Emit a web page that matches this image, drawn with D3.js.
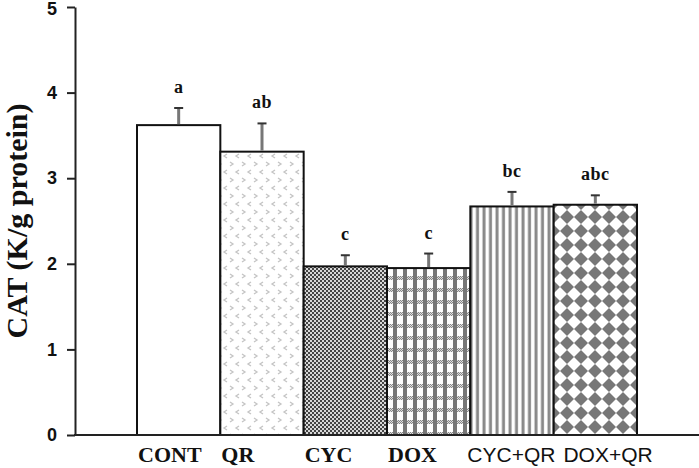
<!DOCTYPE html>
<html>
<head>
<meta charset="utf-8">
<script src="https://cdn.jsdelivr.net/npm/d3@7"></script>
<style>
  html, body { margin: 0; padding: 0; background: #fff; }
  svg { display: block; }
</style>
</head>
<body>
<script>
const categories = ["CONT", "QR", "CYC", "DOX", "CYC+QR", "DOX+QR"];
const means = [3.62, 3.31, 1.97, 1.95, 2.67, 2.69];
const errors = [0.20, 0.33, 0.13, 0.17, 0.17, 0.11];
const letters = ["a", "ab", "c", "c", "bc", "abc"];
const yTicks = [0, 1, 2, 3, 4, 5];
const yTitle = "CAT (K/g protein)";

const W = 699, H = 468;
const svg = d3.select("body").append("svg").attr("width", W).attr("height", H);
const defs = svg.append("defs");

// patterns
const pQR = defs.append("pattern").attr("id", "pQR").attr("patternUnits", "userSpaceOnUse")
  .attr("width", 12).attr("height", 16);
pQR.append("rect").attr("width", 12).attr("height", 16).attr("fill", "#fff");
pQR.append("path").attr("d", "M2,2 L5,4 L2,6").attr("fill", "none").attr("stroke", "#c4c4c4").attr("stroke-width", 1.3);
pQR.append("path").attr("d", "M11,10 L8,12 L11,14").attr("fill", "none").attr("stroke", "#c4c4c4").attr("stroke-width", 1.3);

const pCYC = defs.append("pattern").attr("id", "pCYC").attr("patternUnits", "userSpaceOnUse")
  .attr("width", 4).attr("height", 4);
pCYC.append("rect").attr("width", 4).attr("height", 4).attr("fill", "#d8d8d8");
pCYC.append("rect").attr("width", 2).attr("height", 2).attr("fill", "#444");
pCYC.append("rect").attr("x", 2).attr("y", 2).attr("width", 2).attr("height", 2).attr("fill", "#444");

const pCYCl = defs.append("pattern").attr("id", "pCYCl").attr("patternUnits", "userSpaceOnUse")
  .attr("width", 2).attr("height", 2);
pCYCl.append("rect").attr("width", 2).attr("height", 2).attr("fill", "#e0e0e0");
pCYCl.append("rect").attr("width", 1).attr("height", 1).attr("fill", "#888");
pCYCl.append("rect").attr("x", 1).attr("y", 1).attr("width", 1).attr("height", 1).attr("fill", "#888");

const pDOX = defs.append("pattern").attr("id", "pDOX").attr("patternUnits", "userSpaceOnUse")
  .attr("width", 10).attr("height", 12);
pDOX.append("rect").attr("width", 10).attr("height", 12).attr("fill", "#fff");
pDOX.append("rect").attr("y", 0).attr("width", 10).attr("height", 4).attr("fill", "url(#pCYCl)");
pDOX.append("rect").attr("x", 3).attr("width", 4).attr("height", 12).attr("fill", "#777");

const pCQ = defs.append("pattern").attr("id", "pCQ").attr("patternUnits", "userSpaceOnUse")
  .attr("width", 6.5).attr("height", 10);
pCQ.append("rect").attr("width", 6.5).attr("height", 10).attr("fill", "#fff");
pCQ.append("rect").attr("x", 1.5).attr("width", 3).attr("height", 10).attr("fill", "#888");

const pDQ = defs.append("pattern").attr("id", "pDQ").attr("patternUnits", "userSpaceOnUse")
  .attr("width", 14).attr("height", 14);
pDQ.append("rect").attr("width", 14).attr("height", 14).attr("fill", "#fff");
pDQ.append("path").attr("d", "M7,0 L14,7 L7,14 L0,7 Z").attr("fill", "#777");

const fills = ["#fff", "url(#pQR)", "url(#pCYC)", "url(#pDOX)", "url(#pCQ)", "url(#pDQ)"];

const x = d3.scaleBand().domain(categories).range([137, 637]).padding(0);
const y = d3.scaleLinear().domain([0, 5]).range([435, 7]);

// bars
svg.selectAll("rect.bar").data(categories).join("rect")
  .attr("class", "bar")
  .attr("x", d => x(d))
  .attr("y", (d, i) => y(means[i]))
  .attr("width", x.bandwidth())
  .attr("height", (d, i) => y(0) - y(means[i]))
  .attr("fill", (d, i) => fills[i])
  .attr("stroke", "#111").attr("stroke-width", 2);

// error bars
const eb = svg.selectAll("g.eb").data(categories).join("g").attr("class", "eb");
eb.append("line")
  .attr("x1", d => x(d) + x.bandwidth() / 2).attr("x2", d => x(d) + x.bandwidth() / 2)
  .attr("y1", (d, i) => y(means[i]) - 1).attr("y2", (d, i) => y(means[i] + errors[i]))
  .attr("stroke", "#777").attr("stroke-width", 3);
eb.append("line")
  .attr("x1", d => x(d) + x.bandwidth() / 2 - 4.5).attr("x2", d => x(d) + x.bandwidth() / 2 + 4.5)
  .attr("y1", (d, i) => y(means[i] + errors[i])).attr("y2", (d, i) => y(means[i] + errors[i]))
  .attr("stroke", "#333").attr("stroke-width", 2);

// significance letters
svg.selectAll("text.sig").data(categories).join("text")
  .attr("class", "sig")
  .attr("x", d => x(d) + x.bandwidth() / 2)
  .attr("y", (d, i) => y(means[i] + errors[i]) - 15)
  .attr("text-anchor", "middle")
  .attr("font-family", "'Liberation Serif', 'Times New Roman', serif")
  .attr("font-weight", "bold").attr("font-size", 18)
  .attr("letter-spacing", 0.5)
  .attr("fill", "#111")
  .text((d, i) => letters[i]);

// y axis
const yAxis = d3.axisLeft(y).tickValues(yTicks).tickSize(8).tickSizeOuter(0).tickPadding(10)
  .tickFormat(d3.format("d"));
const gy = svg.append("g").attr("transform", "translate(75,0)").call(yAxis);
gy.select(".domain").attr("stroke", "#222").attr("stroke-width", 2);
gy.selectAll(".tick line").attr("stroke", "#222").attr("stroke-width", 2);
gy.selectAll(".tick text")
  .attr("font-family", "'Liberation Sans', Arial, sans-serif")
  .attr("font-weight", "bold").attr("font-size", 18).attr("fill", "#111")
  .attr("dy", d => d === 5 ? "0.4em" : "0.32em");

// x axis line
svg.append("line").attr("x1", 74).attr("x2", W).attr("y1", y(0)).attr("y2", y(0))
  .attr("stroke", "#222").attr("stroke-width", 2);

// x labels (start-anchored at bar edge, pushed right to avoid overlap)
const xl = svg.selectAll("text.xl").data(categories).join("text")
  .attr("class", "xl")
  .attr("x", d => x(d) + 1)
  .attr("y", 462)
  .attr("text-anchor", "start")
  .attr("font-family", d => d.includes("+") ? "'Liberation Sans', Arial, sans-serif" : "'Liberation Serif', 'Times New Roman', serif")
  .attr("font-weight", d => d.includes("+") ? "normal" : "bold")
  .attr("font-size", d => d.includes("+") ? 21 : 22)
  .attr("fill", "#111")
  .text(d => d);
let prevEnd = -Infinity;
xl.each(function() {
  const el = d3.select(this);
  let xs = +el.attr("x");
  const w = this.getComputedTextLength();
  if (xs < prevEnd + 8) { xs = prevEnd + 8; el.attr("x", xs); }
  prevEnd = xs + w;
});
xl.filter(d => d.includes("+")).attr("x", function() { return +d3.select(this).attr("x") - 4; });

// y title
svg.append("text")
  .attr("transform", `translate(27,${(y(0) + y(5)) / 2}) rotate(-90)`)
  .attr("text-anchor", "middle")
  .attr("font-family", "'Liberation Serif', 'Times New Roman', serif")
  .attr("font-weight", "bold").attr("font-size", 30)
  .attr("fill", "#111")
  .text(yTitle);
</script>
</body>
</html>
